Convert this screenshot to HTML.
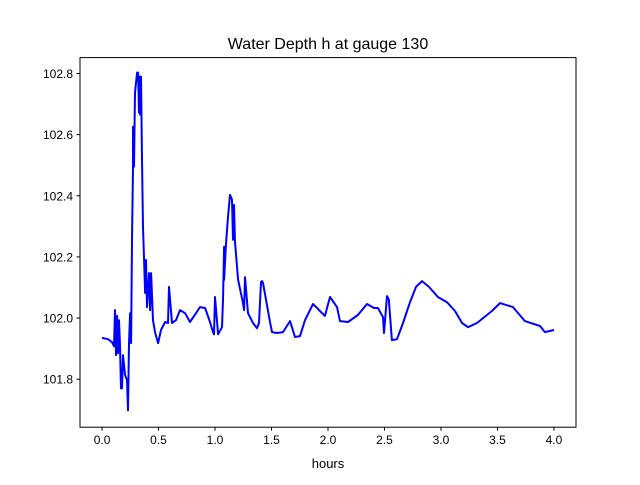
<!DOCTYPE html>
<html><head><meta charset="utf-8"><style>body{margin:0;background:#fff}svg text{font-family:"Liberation Sans","DejaVu Sans",sans-serif}</style></head>
<body>
<svg id="chart" width="640" height="480" xmlns="http://www.w3.org/2000/svg">
<rect width="640" height="480" fill="#fff"/>
<text x="328" y="49" font-size="16" text-anchor="middle">Water Depth h at gauge 130</text>
<g id="plot"></g>
<rect x="80" y="57.6" width="496" height="369.6" fill="none" stroke="#000" stroke-width="1"/>
<text x="328" y="468" font-size="13" text-anchor="middle">hours</text>
</svg>
<script>
const hours=[0,.053,.088,.106,.115,.124,.133,.142,.150,.159,.168,.177,.186,.204,.221,.230,.239,.248,.257,.265,.274,.274,.283,.292,.310,.319,.327,.336,.336,.345,.354,.363,.372,.381,.389,.398,.416,.425,.434,.451,.469,.496,.522,.558,.584,.584,.593,.619,.655,.690,.735,.779,.832,.867,.912,.956,.982,.991,1.0,1.027,1.062,1.071,1.080,1.080,1.097,1.115,1.133,1.150,1.159,1.168,1.177,1.204,1.248,1.257,1.265,1.292,1.336,1.372,1.389,1.407,1.416,1.425,1.487,1.504,1.549,1.602,1.664,1.708,1.752,1.796,1.867,1.973,2.018,2.080,2.106,2.177,2.265,2.345,2.407,2.442,2.487,2.496,2.522,2.540,2.540,2.566,2.611,2.664,2.726,2.779,2.832,2.894,2.973,3.053,3.124,3.186,3.239,3.319,3.451,3.522,3.637,3.743,3.876,3.920,4.0];
const depth=[101.935,101.931,101.921,101.908,102.026,101.879,102.007,101.885,101.993,101.911,101.770,101.770,101.879,101.813,101.797,101.698,101.918,102.016,101.918,102.256,102.495,102.626,102.495,102.738,102.803,102.803,102.672,102.790,102.666,102.790,102.518,102.298,102.190,102.082,102.190,102.036,102.147,102.026,102.147,101.993,101.954,101.918,101.961,101.987,101.984,101.984,102.102,101.984,101.993,102.026,102.016,101.987,102.016,102.036,102.033,101.987,101.954,101.947,102.069,101.947,101.970,102.059,102.233,102.125,102.243,102.331,102.403,102.387,102.256,102.370,102.249,102.125,102.049,102.026,102.134,102.016,101.984,101.967,101.984,102.118,102.121,102.115,101.987,101.954,101.951,101.954,101.990,101.938,101.941,101.993,102.046,102.007,102.069,102.036,101.990,101.987,102.010,102.046,102.033,102.033,102.003,101.951,102.072,102.059,102.052,101.928,101.931,101.984,102.052,102.102,102.121,102.102,102.069,102.052,102.023,101.984,101.970,101.984,102.023,102.049,102.036,101.990,101.974,101.954,101.961,102.000];
const xTicks=[0,0.5,1,1.5,2,2.5,3,3.5,4];
const xTickLabels=["0.0","0.5","1.0","1.5","2.0","2.5","3.0","3.5","4.0"];
const yTicks=[101.8,102.0,102.2,102.4,102.6,102.8];
const yTickLabels=["101.8","102.0","102.2","102.4","102.6","102.8"];
const NS="http://www.w3.org/2000/svg";
const X0=80,X1=576,Y0=427.2,Y1=57.6,xmin=-0.195,xmax=4.195,ymin=101.643,ymax=102.852;
function xs(v){return X0+(v-xmin)/(xmax-xmin)*(X1-X0);}
function ys(v){return Y0-(v-ymin)/(ymax-ymin)*(Y0-Y1);}
const svg=document.getElementById('chart');
const g=document.getElementById('plot');
function mk(t,a){const e=document.createElementNS(NS,t);for(const k in a)e.setAttribute(k,a[k]);return e;}
let d='';
hours.forEach((h,i)=>{d+=(i?'L':'M')+xs(h).toFixed(1)+','+ys(depth[i]).toFixed(1);});
const line=mk('path',{d:d,fill:'none',stroke:'#0000ff','stroke-width':2,'stroke-linejoin':'round'});


g.appendChild(line);
xTicks.forEach((t,i)=>{
 const l=mk('line',{x1:xs(t),x2:xs(t),y1:Y0,y2:Y0+3.5,stroke:'#000'});
 
 
 svg.appendChild(l);
 const tx=mk('text',{x:xs(t),y:Y0+17,'font-size':12,'text-anchor':'middle'});
 
 
 tx.textContent=xTickLabels[i];svg.appendChild(tx);
});
yTicks.forEach((t,i)=>{
 const l=mk('line',{x1:X0-3.5,x2:X0,y1:ys(t),y2:ys(t),stroke:'#000'});
 
 
 svg.appendChild(l);
 const tx=mk('text',{x:X0-7,y:ys(t)+4.5,'font-size':12,'text-anchor':'end'});
 
 
 tx.textContent=yTickLabels[i];svg.appendChild(tx);
});
</script>
</body></html>
